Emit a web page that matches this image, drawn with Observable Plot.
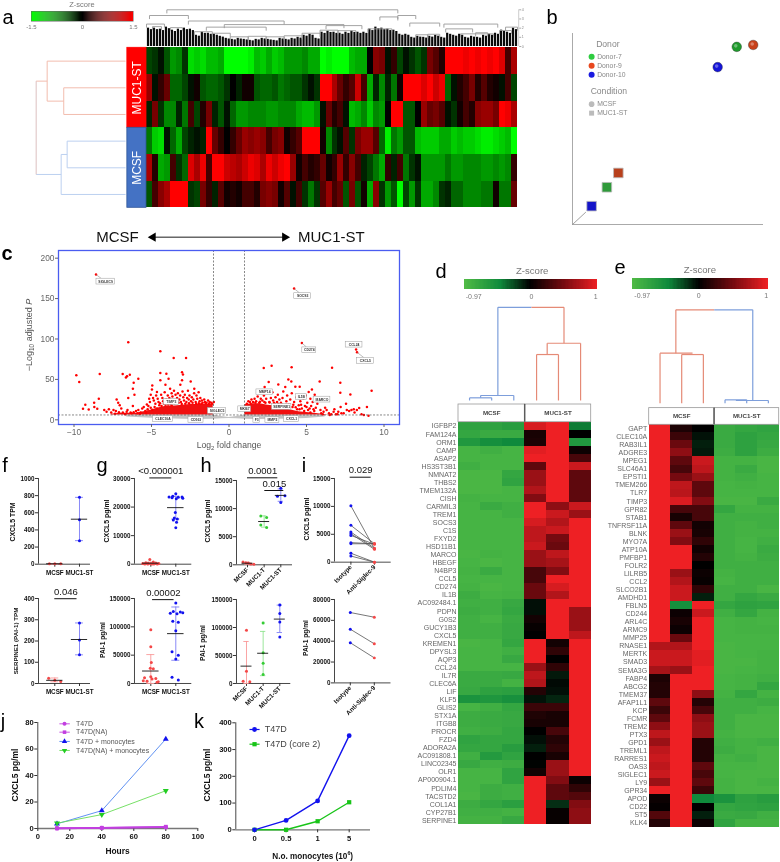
<!DOCTYPE html>
<html><head><meta charset="utf-8">
<script src="https://cdn.jsdelivr.net/npm/d3@7"></script>
<script src="https://cdn.jsdelivr.net/npm/@observablehq/plot@0.6"></script>
<style>
html,body{margin:0;padding:0;background:#fff}
#root{position:relative;width:780px;height:862px;overflow:hidden;background:#fff;font-family:"Liberation Sans",Arial,sans-serif;filter:blur(.3px)}
#root svg{overflow:visible;background:transparent}
.t{position:absolute;white-space:nowrap;line-height:1}
.t sub{font-size:.7em;line-height:0}
</style></head><body><div id="root"></div>
<script>
// ---------- panel a: heat map (rows: MUC1-ST x3, MCSF x3) ----------
const aRow1=[-.4,-.3,-.1,-.5,-.9,-.8,-.3,-1.3,-1.2,-1.3,-1.1,-1.1,-1,-1.5,-1.5,-1.5,-1.5,-1.4,-1.1,-1.2,-1,-1.2,-1.1,-.9,-.9,-.9,-.8,-1,-1,-1.5,-1.4,-1.5,-1.5,-1.5,-1.1,-1,-1,0,.8,.7,-.1,.3,-.4,-.1,-.3,-.5,-.3,.7,.5,.2,1.5,1.5,1.5,1.4,1.5,1.4,1.5,1.4,1.5,1.3,.4,1];
const aRow2=[.9,-.1,.3,.6,-.6,-.6,-.4,-.1,.1,-.5,-.6,-.6,-.5,-.3,0,-.2,.1,.1,-.5,-.6,-.6,-.5,-.7,-.6,-.5,-.5,-.3,-.1,-.3,1.5,1.5,1,.6,.3,.5,1.2,.4,-1,-.2,-.8,-.2,-.7,.1,1.5,1.5,1.5,1.3,1.5,1.2,1.4,-.6,-.1,.2,.4,.7,.2,.5,.2,.1,-.1,.4,-.4];
const aRow3=[-.2,.7,-.3,-.8,-.8,-.2,-.7,.4,-.4,.2,.7,-.2,-.5,-.1,-.6,-.9,-.9,-.8,-.8,-.8,-.9,-.9,-.8,-.8,-.8,-1,-1.1,-1.1,-.9,-.1,.6,.2,.4,-.1,-1.1,-1,-.8,-1.2,-.8,-.9,0,1.5,1.5,-.5,-.5,0,.9,.6,.7,.5,-.1,-.3,.1,.4,.2,.8,.9,.9,.7,1.5,1.4,1];
const aRow4=[-.7,-1.2,-1.3,-.1,-.6,-1,-.4,-.2,-.1,-.2,1.5,.6,.3,0,.3,.6,.9,.8,.9,.8,.4,.7,.8,.1,.3,.5,1.5,1.5,1.5,.1,-.8,-.3,-.1,.5,-.3,.7,.9,.9,.5,-.6,-1.4,-.7,-.9,-.5,-.5,-1.1,-1.2,-1.2,-1.2,-1,-1,-1.2,-1.1,-1.2,-1.2,-1.3,-1.4,-1.4,-1.3,-1.2,-1.1,-1.5];
const aRow5=[1,.2,-1,-.9,.4,-.3,-.6,1.3,1,1.4,.4,1.5,1.5,1.2,1.1,1,1.2,1.4,1.3,1,1.4,1.2,1.4,1.5,.9,.1,.4,.2,.3,.6,.1,.3,.9,.3,.8,.4,-.2,-.4,-.7,-1,.3,-.2,.4,-.7,-.3,-.1,-.9,-.9,-.9,-.9,-.7,-.9,-.9,-.8,-.8,-.8,-.9,-.9,-.8,-.9,-.8,.3];
const aRow6=[-.5,.4,.8,1,1.5,1.5,1.5,-.3,-.4,.7,.3,-.2,.5,.1,.2,.1,.4,.4,.2,.7,.8,.7,.1,.5,-.1,.4,-.3,-.7,-.3,.5,.9,.4,.6,-.5,.7,-.5,.1,-1,.8,-.3,-.9,-.5,-1.5,-.4,-.9,-.3,-1,-1,-.8,-.3,-.2,-.6,-.6,-.8,-.8,-.8,-.7,-.7,.1,-.7,-.7,.6];
const aRows=[aRow1,aRow2,aRow3,aRow4,aRow5,aRow6];
const aLeaf=[1.8,1.8,1.7,1.9,1.6,1.7,1.8,1.7,1.1,1.4,1.3,1.2,1,.8,.7,.8,.7,.6,.7,.8,.7,.6,.8,.7,.8,.9,1.1,1.2,.8,1.4,1.5,1.4,1.3,1.4,1.5,1.4,1.4,1.7,1.9,1.8,1.7,1.6,1.2,1.2,.9,1,.9,1,1.1,.9,1.3,1.1,1.2,.9,1,.9,1.1,1.2,1.3,1.6,1.4,1.8];
// top dendrogram merges: [from column, to column, height]
const aTopMerges=[[3.4,42,3.6],[.5,7,3.04],[7,23,2.5],[13,33,2.15],[0,3,2.2],[10,20,1.9],[30,36,2.05],[37,41,1.73],[39,42,2.9],[42,45,3.04],[44,49,2.3],[49.7,58.7,2.2],[50,54.5,1.73],[59,61,1.57],[52.5,58,1.24],[1,2.5,1.95],[4,6,1.85],[8,11,1.45],[11,14,1.3],[14,17,.95],[17,20,1],[20,23,.95],[23,26,1.05],[26,29,1.3],[29,32,1.6],[32,35,1.55],[45,47,1.15],[47,49,1.2],[55,57,1.35],[60,62,1.9]];
// left dendrogram branches: [x1,row1,x2,row2,colour class]
const aBranches=[[-16.6,.5,-3.5,.5,"r"],[-16.6,.5,-16.6,2,"r"],[-13.83,1.5,-3.5,1.5,"r"],[-13.83,2.5,-3.5,2.5,"r"],[-13.83,1.5,-13.83,2.5,"r"],[-16.6,2,-13.83,2,"r"],[-13.26,3.5,-3.5,3.5,"b"],[-13.26,4.5,-3.5,4.5,"b"],[-13.26,3.5,-13.26,4.5,"b"],[-14.26,4,-13.26,4,"b"],[-14.26,4,-14.26,5.5,"b"],[-14.26,5.5,-3.5,5.5,"b"],[-18.44,1.25,-16.6,1.25,"r"],[-18.44,4.75,-14.26,4.75,"b"],[-18.44,1.25,-18.44,4.75,"m"]];
const aGroups=["MUC1-ST","MCSF"];
const aTopTicks=[0,.9,1.8,2.7,3.6];
const aScaleTicks=[-1.5,0,1.5];

// ---------- panel b ----------
const bDonors=["Donor-7","Donor-9","Donor-10"];
const bColors=["#1f9a2c","#c8401a","#1414d8"];
const bSphereX=[86,94.6,76], bSphereY=[93,94,82.4];
const bCubeX=[18,24,10], bCubeY=[19.5,27,9.6];
const bCubeColors=["#2f9a3a","#b8401c","#1414c8"];

// ---------- panel c: volcano ----------
const cLeftPts=[[-8.58,179.8],[-6.5,96],[-4.43,84.7],[-3.57,76.4],[-2.77,76.4],[-9.85,55],[-9.66,46.7],[-8.34,56.6],[-6.86,56.6],[-6.65,52.5],[-6.58,54],[-6.4,55.8],[-5.85,50.8],[-6.15,46],[-6.2,38.4],[-6.1,31],[-6.5,26.9],[-4.95,42.6],[-4.97,37.6],[-4.43,57.9],[-4.04,57],[-4.43,48.8],[-3.9,50.8],[-3.03,59],[-2.97,56],[-3.03,48.8],[-3.14,43.4],[-2.47,47.5],[-4.1,43.4],[-4.65,34.3],[-3.8,38.4],[-2.24,38.4],[-1.96,34],[-9.42,13.6],[-9.27,18.6],[-9.05,12.8],[-8.7,21],[-8.4,26],[-8.69,15.7],[-8.5,13.6],[-8.05,12],[-7.9,10],[-7.75,13],[-7.6,9],[-7.45,12],[-7.3,11],[-7.25,25],[-7.15,21],[-7.05,18],[-6.95,14],[-6.85,9],[-6.7,7],[-6.55,12],[-6.35,9],[-6.3,8],[-6.2,17],[-6.0,11],[-5.9,8],[-5.7,9],[-5.6,14],[-5.5,16],[-5.4,11],[-5.3,19],[-5.2,17],[-5.15,26],[-5.1,22],[-5.05,31],[-4.9,27],[-4.85,24],[-4.75,20],[-4.7,30],[-4.6,26],[-4.55,22],[-4.5,18],[-4.38,31],[-4.3,27],[-4.25,23],[-4.2,20],[-4.15,34],[-4.05,25],[-3.95,30],[-3.9,22],[-3.85,27],[-3.75,20],[-3.7,33],[-3.65,29],[-3.6,24],[-3.55,36],[-3.45,31],[-3.4,22],[-3.35,27],[-3.3,33],[-3.2,25],[-3.15,30],[-3.1,22],[-3.0,35],[-2.95,28],[-2.9,24],[-2.85,31],[-2.75,22],[-2.7,27],[-2.65,36],[-2.6,25],[-2.55,30],[-2.45,23],[-2.4,28],[-2.3,25],[-2.25,33],[-2.15,22],[-2.1,30],[-2.05,26],[-1.9,23],[-1.85,27],[-1.75,24],[-1.7,21],[-1.6,25],[-1.55,22],[-1.45,21],[-1.35,24],[-1.25,22],[-1.15,21],[-1.08,20],[-.98,22],[-7.35,7.5],[-7.1,9.5],[-6.6,10],[-6.15,9.5],[-5.85,12],[-5.75,7.5],[-5.35,8.5],[-5.25,13],[-5.05,15],[-4.95,12.5],[-4.8,16],[-4.65,14],[-4.45,20.5],[-4.35,17],[-4.1,18.5],[-3.92,19],[-3.7,18],[-3.52,20.5],[-3.25,21],[-3.05,19.5],[-2.82,20],[-2.58,20.5],[-2.35,21],[-2.12,20],[-1.95,20.5],[-1.78,20],[-1.5,20.5],[-1.3,19.8]];
const cRightPts=[[4.2,162.4],[4.7,95],[8.2,87],[8.26,83.5],[2.24,64],[2.75,67],[4.04,65],[6.65,64.5],[5.85,47.5],[7.18,45.9],[7.18,33.5],[9.2,36],[7.83,31.4],[7.55,20],[2.56,46.7],[2.3,40.5],[3.83,50],[4.02,47.5],[3.63,40.5],[4.28,41],[4.56,41],[3.18,43.8],[5.35,37.6],[5.14,34.3],[5.53,31],[5.25,26],[8.9,15.7],[8.4,14.5],[8.25,12],[8.05,13],[7.9,12],[7.75,11],[7.6,12],[7.4,8],[7.2,16],[7.05,10],[6.9,7],[6.75,10],[6.6,7],[6.45,8],[6.3,12],[6.2,15],[6.1,10],[5.95,8],[5.8,24],[5.7,20],[5.6,15],[5.5,11],[5.4,22],[5.3,17],[5.2,14],[5.05,21],[4.95,30],[4.9,17],[4.8,26],[4.7,14],[4.6,23],[4.5,18],[4.4,13],[4.35,28],[4.2,22],[4.1,16],[4.05,33],[3.95,25],[3.85,19],[3.75,30],[3.7,23],[3.6,17],[3.5,35],[3.45,27],[3.35,21],[3.25,25],[3.15,31],[3.1,22],[3,28],[2.95,20],[2.85,24],[2.8,34],[2.7,27],[2.6,22],[2.5,36],[2.4,26],[2.35,21],[2.25,30],[2.15,24],[2.05,26],[1.95,21],[1.85,29],[1.75,23],[1.65,26],[1.55,22],[1.45,25],[1.35,22],[1.25,23],[1.15,20],[1.06,18],[9,5],[8.7,6],[8.55,7],[8.1,9],[7.25,8],[7,7],[6.8,13],[6.5,6],[5.9,12],[6.05,7],[5.45,13],[5.25,9],[5.1,12],[5,16],[4.85,11],[4.65,18.5],[4.55,13],[4.3,15.5],[4.15,18.5],[3.92,15.5],[3.68,18.5],[3.42,19],[3.18,19.5],[2.9,21],[2.62,21.5],[2.28,22],[2,22.5],[1.7,21],[1.4,20],[1.2,19]];
const cBlobLX=[-7.6,-7,-6.5,-6,-5.5,-5,-4.5,-4,-3.5,-3,-2.5,-2,-1.5,-1.02];
const cBlobLTop=[7,8,8,8,10,12,15,17,17,18,19,19,19,19];
const cBlobRX=[1.02,1.5,2,2.5,3,3.5,4,4.5,5,5.5,6,6.5];
const cBlobRTop=[17,20,20,18,17,14,12,10,9,8,7,6];
const cGreyX=[-6.6,-5,-4,-3,-2,-1,-.5,0,.5,1,2,3,4,5,6.2];
const cGreyTop=[5.5,6,6,6,6,6,4.2,2.8,4.2,6,6,6,6,6,5.5];
const cGreyBot=[3.4,2,1.2,.6,.4,.6,1.2,1.5,1.2,.6,.4,.6,1,1.6,3.4];
const cLabels=["SIGLEC9","SOCS3","CD274","CCL24","CXCL5","MMP14","TIMP3","IL1B","MARCO","SERPINE1","SIGLEC5","MKI67","CLEC10A","CD163","F3","MMP2","CXCL1"];
const cLabelX=[-7.96,4.75,5.18,8.07,8.8,2.31,-3.72,4.67,6,3.4,-.77,1.01,-4.26,-2.13,1.79,2.8,4.04];
const cLabelY=[171,153,86,93,73,34,22,28,25,16,11,13,1,0,0,-.5,.8];
const cLabelW=[1.18,1.08,.9,1.08,1.08,1.08,.97,.69,1.08,1.25,1.18,.82,1.29,.97,.43,.9,.97];
const cLeaders=[[-8.58,179.8,-8.25,175],[4.2,162.4,4.55,157],[4.7,95,5,90],[8.26,83.5,8.7,77]];
const cArrowEnds=[-4.9,3.6];

// ---------- panel d ----------
const dGenes=["IGFBP2","FAM124A","ORM1","CAMP","ASAP2","HS3ST3B1","NMNAT2","THBS2","TMEM132A","CISH","CARMIL3","TREM1","SOCS3","C1S","FXYD2","HSD11B1","MARCO","HBEGF","N4BP3","CCL5","CD274","IL1B","AC092484.1","PDPN","G0S2","GUCY1B3","CXCL5","KREMEN1","DPYSL3","AQP3","CCL24","IL7R","CLEC6A","LIF","KLF5","GLIS2","STX1A","ITGB8","PROCR","FZD4","ADORA2A","AC091808.1","LINC02345","OLR1","AP000904.1","PDLIM4","TACSTD2","COL1A1","CYP27B1","SERPINE1"];
const dValues=[[-.7,-.7,-.65,.9,1,-.4],[-.75,-.8,-.8,.1,1,0],[-.6,-.5,-.45,.12,1,-.6],[-.9,-.85,-.9,.95,1,.05],[-.9,-.9,-.9,1,1,.3],[-.85,-.9,-.9,.4,1,.85],[-.93,-.93,-.75,.65,1,.4],[-.93,-.93,-.72,.65,1,.4],[-.93,-.93,-.9,.75,1,.4],[-.88,-.9,-.9,.55,1,.4],[-.9,-.8,-.85,1,.6,.85],[-.9,-.9,-.85,1,.85,.65],[-.9,-.9,-.9,.9,.75,1],[-.9,-.9,-.9,.8,.85,1],[-.9,-.9,-.9,.8,.5,1],[-.9,-.9,-.9,.85,.45,1],[-.92,-.88,-.9,.65,.8,1],[-.9,-.93,-.9,.65,.7,1],[-.88,-.8,-.9,.3,.55,1],[-.9,-.9,-.9,.3,1,1],[-.88,-.93,-.9,.45,.9,1],[-.82,-.9,-.88,.45,.75,1],[-.85,-.85,-.78,-.05,1,1],[-.82,-.85,-.75,-.05,1,.65],[-.85,-.9,-.8,.08,1,.65],[-.85,-.85,-.78,.03,1,.65],[-.85,-.85,-.78,0,1,.8],[-.92,-.9,-.75,1,.08,1],[-.9,-.9,-.85,1,.2,1],[-.9,-.9,-.78,1,0,1],[-.9,-.9,-.9,.65,.2,1],[-.8,-.8,-.78,.8,-.08,1],[-.8,-.8,-.88,.75,-.03,1],[-.78,-.7,-.68,.15,-.05,1],[-.55,-.58,-.52,-.06,-.12,1],[-.9,-.85,-.75,.25,.25,1],[-.82,-.8,-.78,.13,.1,1],[-.82,-.8,-.78,.1,.1,1],[-.85,-.82,-.75,0,.3,1],[-.72,-.75,-.75,-.05,.15,1],[-.75,-.75,-.65,-.1,.2,1],[-.85,-.62,-.72,0,.1,1],[-.78,-.85,-.82,-.01,.65,1],[-.9,-.9,-.72,.08,.65,1],[-.9,-.9,-.72,1,.55,.05],[-.9,-.82,-.85,1,.4,.2],[-.92,-.82,-.85,1,.4,.35],[-.82,-.75,-.68,1,-.15,.55],[-.85,-.85,-.88,1,.03,.6],[-.88,-.88,-.78,1,.03,.6]];
// dendrogram branches: [x1,h1,x2,h2,colour class]
const dBranches=[[.5,-2.7,.5,-3.03,"b"],[1.5,-2.7,1.5,-3.03,"b"],[.5,-3.03,1.5,-3.03,"b"],[1,-3.03,1,-3.32,"b"],[2.5,-2.7,2.5,-3.32,"b"],[1,-3.32,2.5,-3.32,"b"],[1.78,-3.32,1.78,-14.28,"b"],[1.78,-14.28,3.3,-14.28,"b"],[3.3,-14.28,4.77,-14.28,"r"],[4.77,-14.28,4.77,-9.81,"r"],[4.01,-9.81,5.52,-9.81,"r"],[4.01,-9.81,4.01,-8.41,"r"],[3.53,-8.41,4.52,-8.41,"r"],[3.53,-8.41,3.53,-2.7,"r"],[4.52,-8.41,4.52,-2.7,"r"],[5.52,-9.81,5.52,-2.7,"r"]];

// ---------- panel e ----------
const eGenes=["GAPT","CLEC10A","RAB3IL1","ADGRE3","MPEG1","SLC46A1","EPSTI1","TMEM266","TLR7","TIMP3","GPR82","STAB1","TNFRSF11A","BLNK","MYO7A","ATP10A","PMFBP1","FOLR2","LILRB5","CCL2","SLCO2B1","AMDHD1","FBLN5","CD244","ARL4C","ARMC9","MMP25","RNASE1","MERTK","SMAD3","SEMA3G","FABP4","ABCG2","TMEM37","AFAP1L1","KCP","FCMR","TREM2","PTX3","GPD1","TREML1","RARRES1","OAS3","SIGLEC1","LY9","GPR34","APOD","CD22","ST5","KLK4"];
const eValues=[[1,.12,0,-.8,-.75,-.72],[1,.25,-.06,-.8,-.7,-.75],[1,.45,-.1,-.8,-.7,-.78],[1,.6,-.08,-.82,-.7,-.82],[1,.4,.85,-.88,-.88,-.92],[1,.3,.8,-.88,-.8,-.92],[1,.5,.65,-.88,-.85,-.9],[1,.8,.4,-.9,-.88,-.9],[1,.78,.4,-.9,-.9,-.9],[1,.92,.55,-.92,-.92,-.8],[1,.3,.3,-.75,-.88,-.88],[1,.1,.3,-.85,-.85,-.85],[1,.4,.08,-.85,-.88,-.85],[1,.65,.1,-.85,-.88,-.88],[1,.55,.2,-.85,-.9,-.85],[1,1,.07,-.85,-.9,-.8],[1,1,.15,-.85,-.88,-.82],[1,1,0,-.85,-.85,-.85],[1,.65,.05,-.88,-.85,-.85],[1,.75,.03,-.9,-.85,-.85],[1,.85,.2,-.85,-.85,-.92],[1,.85,-.1,-.85,-.75,-.8],[1,-.5,1,-.75,-.7,-.72],[1,.05,.85,-.85,-.75,-.88],[1,.1,1,-.9,-.88,-.9],[1,.05,1,-.9,-.88,-.88],[1,.45,1,-.9,-.9,-.9],[.75,.75,1,-.92,-.9,-.9],[.85,.85,.95,-.92,-.9,-.88],[.85,.85,.95,-.92,-.92,-.88],[.7,.65,1,-.92,-.9,-.88],[.12,1,1,-.9,-.88,-.85],[.15,1,1,-.9,-.88,-.75],[.15,1,.6,-.88,-.75,-.88],[.4,1,.15,-.85,-.85,-.82],[.25,1,.3,-.85,-.85,-.9],[.4,1,.6,-.85,-.92,-.92],[.6,1,.65,-.85,-.92,-.92],[.8,1,.65,-.88,-.92,-.92],[.65,1,.15,-.85,-.88,-.85],[.8,1,.15,-.82,-.88,-.92],[.85,1,.15,-.88,-.85,-.92],[.8,1,.4,-.9,-.9,-.92],[.85,1,.3,-.9,-.92,-.92],[.65,1,.4,-.88,-.92,-.88],[1,1,.25,-.88,-.92,-.92],[.05,1,-.45,-.55,-.7,-.65],[.02,1,0,-.75,-.72,-.7],[.35,1,-.1,-.8,-.78,-.85],[.15,1,.05,-.72,-.88,-.88]];
const eBranches=[[.5,-2.68,.5,-8.9,"r"],[1.5,-2.68,1.5,-8.73,"r"],[2.5,-2.68,2.5,-8.73,"r"],[1.5,-8.73,2.5,-8.73,"r"],[.5,-8.9,2,-8.9,"r"],[1.23,-8.9,1.23,-14.28,"r"],[1.23,-14.28,3,-14.28,"r"],[3,-14.28,4.78,-14.28,"b"],[4.78,-14.28,4.78,-3.02,"b"],[3.5,-3.1,4.5,-3.1,"b"],[4,-3.02,5.5,-3.02,"b"],[3.5,-3.1,3.5,-2.68,"b"],[4.5,-3.1,4.5,-2.68,"b"],[5.5,-3.02,5.5,-2.68,"b"]];
const headerNames=["MCSF","MUC1-ST"];

// ---------- panels f to i ----------
const red="#f44848", blue="#1212ee", green="#35cc35";
const f1={cats:["MCSF","MUC1-ST"],ymax:1000,ticks:[0,200,400,600,800,1000],groups:[
 {i:0,c:red,v:[6,6,6],o:[-.22,0,.24],m:5,lo:2,hi:8},
 {i:1,c:blue,v:[780,520,275],o:[0,0,0],m:525,lo:275,hi:780}]};
const f2={cats:["MCSF","MUC1-ST"],ymax:400,ticks:[0,100,200,300,400],groups:[
 {i:0,c:red,v:[25,15,10],o:[-.25,0,.24],m:15,lo:8,hi:26},
 {i:1,c:blue,v:[285,205,135],o:[0,0,0],m:207,lo:135,hi:285}],sig:[{a:0,b:.9,y:399,t:"0.046"}]};
const g1={cats:["MCSF","MUC1-ST"],ymax:30000,ticks:[0,10000,20000,30000],groups:[
 {i:0,c:red,v:[1600,800,500,400,300,250,200,150,100,80,60,40,30],o:[-.04,.1,-.2,.2,-.1,-.32,.32,0,-.24,.12,.26,-.12,.04],m:350,lo:0,hi:700},
 {i:1,c:blue,v:[24700,23800,23500,23500,23400,23300,23100,22900,18100,16200,15800,15500,14700,12800],o:[0,-.12,-.27,.25,.1,-.15,.28,.02,-.02,-.06,.06,-.1,.03,0],m:19800,lo:15800,hi:23800}],sig:[{a:-.04,b:.84,y:30200,t:"<0.000001"}]};
const g2={cats:["MCSF","MUC1-ST"],ymax:150000,ticks:[0,50000,100000,150000],groups:[
 {i:0,c:red,v:[95000,65000,37000,27000,26000,12000,10000,9000,8000,5000,4000,3000,2000],o:[0,0,.02,-.02,.1,0,-.25,.2,.05,-.3,-.15,.3,.25],m:22000,lo:0,hi:51000},
 {i:1,c:blue,v:[142000,127000,126000,125000,124000,123000,110000,108000,93000,56000,50000,43000,11000,6000],o:[0,-.1,.18,.28,-.22,.05,-.12,.1,0,-.15,.1,0,-.15,.1],m:88000,lo:41000,hi:135000}],sig:[{a:.07,b:.93,y:148000,t:"0.00002"}]};
const h1={cats:["MCSF","MUC1-T","MUC1-ST"],ymax:15000,ticks:[0,5000,10000,15000],rotate:true,groups:[
 {i:0,c:red,v:[500,350,300,150,80],o:[-.27,-.1,.05,.2,.38],m:280,lo:100,hi:450},
 {i:1,c:green,v:[8700,8400,7100,6650],o:[-.2,.15,-.2,.15],m:7700,lo:6700,hi:8700},
 {i:2,c:blue,v:[13600,12300,12200,11100],o:[0,.25,-.2,0],m:12350,lo:11300,hi:13500}],sig:[{a:0,b:1.82,y:15480,t:"0.0001"},{a:1.04,b:2.18,y:13220,t:"0.015"}]};
const h2={cats:["MCSF","MUC1-T","MUC1-ST"],ymax:150000,ticks:[0,50000,100000,150000],rotate:true,groups:[
 {i:0,c:red,v:[95000,22000,4000,3000],o:[0,0,-.2,.2],m:31000,lo:0,hi:75000},
 {i:1,c:green,v:[108000,55000,36000,16000],o:[0,0,0,0],m:54000,lo:14000,hi:93000},
 {i:2,c:blue,v:[140000,125000,110000,83000],o:[0,0,0,0],m:115000,lo:91000,hi:140000}]};
const i1={cats:["Isotype","Anti-Siglec-9"],ymax:15000,ticks:[0,5000,10000,15000],rotate:true,thick:true,
 before:[10100,6600,5400,5100,4800,3500,3300,1600,1100],after:[2400,3300,2500,2300,3200,3300,3300,0,0],sig:[{a:-.03,b:.86,y:15230,t:"0.029"}]};
const i2={cats:["Isotype","Anti-Siglec-9"],ymax:80000,ticks:[0,20000,40000,60000,80000],rotate:true,
 before:[67500,51500,38500],after:[63000,37500,24000]};

// ---------- panel j ----------
const jHours=[12,40,80];
const jT47D=[.2,.5,1], jNA=[.1,.5,1.3], jMono=[3.5,13.5,67.5], jNAMono=[4,10.5,28.5];
const jNames=["T47D","T47D(NA)","T47D + monocytes","T47D(NA) + monocytes"];
const jColors=["#c23fe0","#c23fe0","#4f86f0","#66dd55"];
const jSymbols=["circle","square","triangle","triangle"];
const jRot=[0,0,0,180];
const jFills=["#c23fe0","#c23fe0","#1212ee","#22cc22"];
// ---------- panel k ----------
const kDoses=["0","0.5","1","5"];
const kT47D=[0,35,108,352], kCore=[0,0,32,103];
const kNames=["T47D","T47D (core 2)"];

// ---------- helpers ----------
const root=document.getElementById("root");
const FONT='"Liberation Sans",Arial,sans-serif';
const plain=d=>String(d);
function put(el,left,top){el.style.position="absolute";el.style.left=left+"px";el.style.top=top+"px";root.append(el);return el;}
function txt(html,x,y,o={}){const d=document.createElement("div");d.className="t";d.innerHTML=html;
 d.style.left=x+"px";d.style.top=y+"px";d.style.fontSize=(o.size||8)+"px";d.style.fontWeight=o.weight||"normal";d.style.color=o.color||"#111";
 d.style.transform=`translate(-50%,-50%) rotate(${o.rot||0}deg)`;root.append(d);return d;}
const base={style:{fontFamily:FONT,background:"transparent",overflow:"visible"}};
function lines(rows,colors,w){return Plot.link(rows,{x1:d=>d[0],y1:d=>d[1],x2:d=>d[2],y2:d=>d[3],stroke:{value:d=>colors[d[4]],scale:null},strokeWidth:w});}

// panel letters
[["a",8,17],["b",552,17],["c",7,253],["d",441,271],["e",620,267],["f",5,465],["g",102,465],["h",206,465],["i",304,465],["j",3,721],["k",199,721]]
 .forEach(([l,x,y])=>txt(l,x,y,{size:20,color:"#000",weight:l==="c"?"bold":"normal"}));

// ---------- a ----------
const aColor={type:"linear",domain:[-1.5,0,1.5],range:["#00ff00","#000000","#ff0000"]};
const aCells=aRows.flatMap((row,r)=>row.map((z,c)=>({c,r,z})));
put(Plot.plot({...base,width:525,height:172,marginLeft:146,marginRight:8,marginTop:7.3,marginBottom:4.7,
 x:{domain:[0,62],axis:null},y:{domain:[0,6],axis:null,reverse:true},color:aColor,
 marks:[
  Plot.rect(aCells,{x1:"c",x2:d=>d.c+1,y1:"r",y2:d=>d.r+1,fill:"z",shapeRendering:"crispEdges"}),
  Plot.rect(aGroups,{x1:-3.2,x2:0,y1:(d,i)=>i*3,y2:(d,i)=>i*3+3,fill:{value:(d,i)=>["#ff0000","#4472c4"][i],scale:null},stroke:{value:(d,i)=>["#ff0000","#2f5597"][i],scale:null},strokeWidth:.8}),
  Plot.text(aGroups,{x:-1.6,y:(d,i)=>i*3+1.5,text:d=>d,rotate:-90,fill:"#fff",fontSize:12}),
  lines(aBranches,{r:"#f2bdae",b:"#bcd0f0",m:"#dcc0c0"},1)
 ]}),0,40);
const aBars=aLeaf.flatMap((h,i)=>[{x:i+.25,h},{x:i+.75,h:h*.92}]);
const aMergeSeg=aTopMerges.flatMap(([a,b,h])=>[[a,h,b,h],[a,h,a,h-.35],[b,h,b,h-.35]]);
put(Plot.plot({...base,width:395,height:48,marginLeft:0,marginRight:24,marginTop:9.3,marginBottom:2,
 x:{domain:[0,62],axis:null},y:{domain:[0,3.6],axis:null},
 marks:[
  Plot.ruleX(aBars,{x:"x",y1:0,y2:"h",stroke:"#0a0a0a",strokeWidth:2.2}),
  Plot.link(aMergeSeg,{x1:d=>d[0],y1:d=>d[1],x2:d=>d[2],y2:d=>d[3],stroke:"#9a9a9a",strokeWidth:.9}),
  Plot.ruleX([62.2],{y1:0,y2:3.6,stroke:"#aaa",strokeWidth:.6}),
  Plot.axisY(aTopTicks,{anchor:"right",x:62.2,tickSize:2,tickPadding:1,fontSize:3.6,color:"#888",label:null,stroke:"#aaa"})
 ]}),146,0);
put(Plot.plot({...base,width:120,height:30,marginLeft:16,marginRight:2,marginTop:11,marginBottom:9,
 x:{domain:[-1.5,1.5],axis:null},y:{domain:[0,1],axis:null},color:aColor,
 marks:[
  Plot.rect(d3.range(-1.5,1.5,.03),{x1:d=>d,x2:d=>d+.031,y1:0,y2:1,fill:d=>d}),
  Plot.frame({stroke:"#666",strokeWidth:.5}),
  Plot.axisX(aScaleTicks,{tickSize:0,tickPadding:3,fontSize:6,color:"#777",label:null,tickFormat:plain})
 ]}),15,0);
txt("Z-score",82,4.5,{size:7.5,color:"#777"});

// ---------- b ----------
const bConds=["MCSF","MUC1-ST"];
const bLegX=10;
put(Plot.plot({...base,width:220,height:205,marginLeft:22,marginRight:7,marginTop:8,marginBottom:6,
 x:{domain:[0,100],axis:null},y:{domain:[0,100],axis:null},
 marks:[
  Plot.ruleX([0],{y1:0,y2:100,stroke:"#aaa",strokeWidth:1}),
  Plot.ruleY([0],{x1:0,x2:100,stroke:"#aaa",strokeWidth:1}),
  Plot.link([0],{x1:0,y1:0,x2:7,y2:6.5,stroke:"#888",strokeWidth:.8}),
  Plot.dot(bColors,{x:bSphereX,y:bSphereY,r:4.8,fill:d=>d,stroke:"#333",strokeWidth:.4,symbol:"circle"}),
  Plot.dot(bColors,{x:bSphereX,y:bSphereY,r:1.8,fill:"#fff",fillOpacity:.35,dx:-1,dy:-1}),
  Plot.dot(bCubeColors,{x:bCubeX,y:bCubeY,r:5.4,fill:d=>d,stroke:"#bbb",strokeWidth:.8,symbol:"square"}),
  Plot.text(["Donor"],{x:18.5,y:94.6,text:d=>d,fontSize:8.6,fill:"#888"}),
  Plot.dot(bDonors,{x:bLegX,y:[87.8,83.1,78.4],r:3,fill:{value:(d,i)=>["#2ecc40","#e8481f","#1a1ae0"][i],scale:null}}),
  Plot.text(bDonors,{x:12.9,y:[88,83.3,78.6],text:d=>d,textAnchor:"start",fontSize:6.8,fill:"#888"}),
  Plot.text(["Condition"],{x:19,y:69.8,text:d=>d,fontSize:8.6,fill:"#888"}),
  Plot.dot([bConds[0]],{x:bLegX,y:63,r:2.8,fill:"#bbb",symbol:"circle"}),
  Plot.dot([bConds[1]],{x:bLegX,y:58.3,r:2.8,fill:"#bbb",symbol:"square"}),
  Plot.text(bConds,{x:12.9,y:[63.4,58.7],text:d=>d,textAnchor:"start",fontSize:6.8,fill:"#888"})
 ]}),550,25);

// ---------- c ----------
put(Plot.plot({...base,width:410,height:225,marginLeft:58,marginRight:11,marginTop:25,marginBottom:26,
 x:{domain:[-11,11],axis:null},y:{domain:[-5.8,209.5],axis:null},
 marks:[
  Plot.areaY(cGreyX,{x:d=>d,y1:(d,i)=>cGreyBot[i],y2:(d,i)=>cGreyTop[i],fill:"#c4c4c4"}),
  Plot.areaY(cBlobLX,{x:d=>d,y1:6,y2:(d,i)=>cBlobLTop[i],fill:"#f01010"}),
  Plot.areaY(cBlobRX,{x:d=>d,y1:6,y2:(d,i)=>cBlobRTop[i],fill:"#f01010"}),
  Plot.dot(cLeftPts.concat(cRightPts),{x:d=>d[0],y:d=>d[1],r:1.25,fill:"#f00"}),
  Plot.ruleX([-1,1],{stroke:"#555",strokeWidth:.7,strokeDasharray:"2,1.5"}),
  Plot.ruleY([6],{stroke:"#555",strokeWidth:.7,strokeDasharray:"2,1.5"}),
  Plot.link(cLeaders,{x1:d=>d[0],y1:d=>d[1],x2:d=>d[2],y2:d=>d[3],stroke:"#777",strokeWidth:.5}),
  Plot.rect(cLabels,{x1:(d,i)=>cLabelX[i]-cLabelW[i]/2,x2:(d,i)=>cLabelX[i]+cLabelW[i]/2,y1:(d,i)=>cLabelY[i]-3.6,y2:(d,i)=>cLabelY[i]+3.6,fill:"#fff",stroke:"#999",strokeWidth:.5}),
  Plot.text(cLabels,{x:(d,i)=>cLabelX[i],y:(d,i)=>cLabelY[i],text:d=>d,fontSize:3.4,fontWeight:"bold",fill:"#333"}),
  Plot.frame({stroke:"#4a5cf0",strokeWidth:1.3}),
  Plot.axisX([-10,-5,0,5,10],{tickSize:3,tickPadding:2,fontSize:8.4,color:"#666",label:null,stroke:"#666"}),
  Plot.axisY([0,50,100,150,200],{tickSize:3,tickPadding:1,fontSize:8.4,color:"#666",label:null,stroke:"#666"}),
  Plot.link([0],{x1:-4.9,x2:3.6,y1:226,y2:226,stroke:"#000",strokeWidth:.9}),
  Plot.dot(cArrowEnds,{x:d=>d,y:226,r:3.4,symbol:"triangle",fill:"#000",rotate:(d,i)=>i?90:-90}),
  Plot.text(["MCSF","MUC1-ST"],{x:[-7.2,6.6],y:226,text:d=>d,fontSize:15,fill:"#111"})
 ]}),0,225);
txt("−Log<sub>10</sub> adjusted <i>P</i>",29,335,{size:9,rot:-90,color:"#555"});
txt("Log<sub>2</sub> fold change",229,445,{size:8.6,color:"#555"});

// ---------- d, e ----------
const zColor={type:"linear",domain:[-.97,-.45,0,.5,1],range:["#4fba45","#0f8a3c","#000000","#760a10","#ee2024"]};
function heat({genes,values,branches,left,top,width,mL,mR,rowTop,rowBot,hdr,leg,legTicks,legName}){
 const cells=values.flatMap((row,r)=>row.map((z,c)=>({r,c,z})));
 const rowH=(rowBot-rowTop)/genes.length, yTop=(top-rowTop)/rowH;
 const toX=d3.scaleLinear().domain([-.97,1]).range(leg.x);
 const lz=d3.range(-.97,1,.02);
 return put(Plot.plot({...base,width,height:rowBot-top+2,marginLeft:mL,marginRight:mR,marginTop:0,marginBottom:2,
  x:{domain:[0,6],axis:null},y:{domain:[yTop,50],axis:null,reverse:true},color:zColor,
  marks:[
   Plot.rect(cells,{x1:"c",x2:d=>d.c+1,y1:"r",y2:d=>d.r+1,fill:"z",shapeRendering:"crispEdges"}),
   Plot.text(genes,{x:0,y:(d,i)=>i+.5,text:d=>d,textAnchor:"end",dx:-2,fontSize:7,fill:"#666"}),
   Plot.rect(headerNames,{x1:(d,i)=>i*3,x2:(d,i)=>i*3+3,y1:hdr,y2:0,fill:"#fff",stroke:"#999",strokeWidth:.8}),
   Plot.ruleX([3],{y1:hdr,y2:0,stroke:"#333",strokeWidth:1}),
   Plot.text(headerNames,{x:(d,i)=>i*3+1.5,y:hdr/2,text:d=>d,fontSize:6.2,fontWeight:"bold",fill:"#444"}),
   lines(branches,{r:"#e58a76",b:"#7d9edb"},1.2),
   Plot.rect(lz,{x1:d=>toX(d),x2:d=>toX(d+.022),y1:leg.y1,y2:leg.y2,fill:d=>d,shapeRendering:"crispEdges"}),
   Plot.text(legTicks.labels,{x:legTicks.x,y:legTicks.y,text:d=>d,fontSize:7,fill:"#777"}),
   Plot.text([legName],{x:legTicks.tx,y:legTicks.ty,text:d=>d,fontSize:9.6,fill:"#777"})
  ]}),left,top);
}
heat({genes:dGenes,values:dValues,branches:dBranches,left:410,top:262,width:190,mL:48,mR:9.3,rowTop:421.7,rowBot:824,hdr:-2.2,
 leg:{x:[.285,6.27],y1:-17.7,y2:-16.45},legTicks:{labels:["-0.97","0","1"],x:[.69,3.3,6.2],y:-15.6,tx:3.33,ty:-18.85},legName:"Z-score"});
heat({genes:eGenes,values:eValues,branches:eBranches,left:600,top:262,width:180,mL:48.7,mR:1.3,rowTop:424.3,rowBot:826.7,hdr:-2.07,
 leg:{x:[-.78,5.45],y1:-18.2,y2:-16.85},legTicks:{labels:["-0.97","0","1"],x:[-.32,2.28,5.4],y:-16.02,tx:2.34,ty:-19.3},legName:"Z-score"});

// ---------- f to i ----------
function dotPanel(p,{rule,end,cat0,step,top,zero}){
 const x0=(rule-cat0)/step, x1=(end-cat0)/step, pad=36, mt=16;
 const bottom=42;
 const marks=[
  Plot.ruleX([x0],{y1:0,y2:p.ymax,stroke:"#333",strokeWidth:.9}),
  Plot.ruleY([0],{x1:x0,x2:x1,stroke:p.thick?"#888":"#333",strokeWidth:p.thick?1.6:.9}),
  Plot.axisY(p.ticks,{x:x0,tickSize:3,tickPadding:1,fontSize:6.3,fontWeight:"bold",color:"#111",label:null,stroke:"#333",tickFormat:plain}),
  p.rotate
   ?Plot.axisX(p.cats.map((d,i)=>i),{y:0,tickSize:3,tickPadding:1,tickRotate:-45,fontSize:6.3,fontWeight:"bold",color:"#111",label:null,stroke:"#333",tickFormat:i=>p.cats[i]})
   :Plot.axisX(p.cats.map((d,i)=>i),{y:0,tickSize:3,tickPadding:3,fontSize:6.3,fontWeight:"bold",color:"#111",label:null,stroke:"#333",tickFormat:i=>p.cats[i]})
 ];
 (p.groups||[]).forEach(g=>{
  const light=d3.interpolateRgb(g.c,"#fff")(.45);
  marks.push(
   Plot.ruleX([g.i],{y1:g.lo,y2:g.hi,stroke:light,strokeWidth:.9}),
   Plot.ruleY([g.lo,g.hi],{x1:g.i-.16,x2:g.i+.16,stroke:light,strokeWidth:.9}),
   Plot.dot(g.v,{x:(d,k)=>g.i+g.o[k],y:d=>d,r:1.5,fill:g.c}),
   Plot.ruleY([g.m],{x1:g.i-.33,x2:g.i+.33,stroke:"#111",strokeWidth:.9}));
 });
 if(p.before){
  marks.push(
   Plot.link(p.before,{x1:0,x2:1,y1:d=>d,y2:(d,i)=>p.after[i],stroke:"#555",strokeWidth:.8}),
   Plot.dot(p.before,{x:0,y:d=>d,r:1.5,fill:blue}),
   Plot.dot(p.after,{x:1,y:d=>d,r:1.5,fill:red}));
 }
 (p.sig||[]).forEach(s=>marks.push(
   Plot.ruleY([s.y],{x1:s.a,x2:s.b,stroke:"#111",strokeWidth:1}),
   Plot.text([s.t],{x:(s.a+s.b)/2,y:s.y,text:d=>d,dy:-7,fontSize:9.5,fill:"#111"})));
 put(Plot.plot({...base,width:pad+(end-rule)+4,height:mt+(zero-top)+bottom,marginLeft:pad,marginRight:4,marginTop:mt,marginBottom:bottom,
  x:{domain:[x0,x1],axis:null},y:{domain:[0,p.ymax],axis:null},marks}),rule-pad,top-mt);
}
dotPanel(f1,{rule:38,end:90,cat0:54.3,step:24.7,top:478.3,zero:564});
dotPanel(f2,{rule:38,end:90,cat0:54.3,step:24.7,top:598.3,zero:683.3});
dotPanel(g1,{rule:133.7,end:191,cat0:150,step:25,top:478.3,zero:564});
dotPanel(g2,{rule:133.7,end:191,cat0:150,step:25,top:598.3,zero:683.3});
dotPanel(h1,{rule:235.7,end:291.7,cat0:246.7,step:16.65,top:479.7,zero:564});
dotPanel(h2,{rule:235.7,end:290,cat0:245.7,step:16.65,top:599.3,zero:683.3});
dotPanel(i1,{rule:334.3,end:391,cat0:350.7,step:23.6,top:478.3,zero:562});
dotPanel(i2,{rule:333.5,end:390,cat0:349.3,step:24,top:599.3,zero:682.7});
const yT={size:6.9,weight:"bold",rot:-90};
txt("CXCL5 TPM",13.3,521.7,yT);
txt("SERPINE1 (PAI-1) TPM",15.7,641,{...yT,size:6.2});
txt("CXCL5 pg/ml",106.7,520.7,yT);
txt("PAI-1 pg/ml",102.7,640,{...yT,size:6.6});
txt("CXCL5 pg/ml",207.7,521,yT);
txt("PAI-1 pg/ml",202.7,643,{...yT,size:6.6});
txt("CXCL5 pg/ml",307.3,519,yT);
txt("PAI-1 pg/ml",306,638,{...yT,size:6.6});

// ---------- j ----------
const jSeries=[jT47D,jNA,jMono,jNAMono];
const jLong=jSeries.flatMap((s,k)=>s.map((v,i)=>({k,h:jHours[i],v})));
const jLegY=[79,72.7,65.7,58.9];
put(Plot.plot({...base,width:205,height:147,marginLeft:37.3,marginRight:7.7,marginTop:7,marginBottom:34,
 x:{domain:[0,100],axis:null},y:{domain:[0,80],axis:null},
 marks:[
  Plot.ruleX([0],{y1:0,y2:80,stroke:"#333",strokeWidth:.9}),
  Plot.ruleY([0],{stroke:"#777",strokeWidth:1.4}),
  Plot.axisY([0,20,40,60,80],{x:0,tickSize:3,tickPadding:1,fontSize:7.6,fontWeight:"bold",color:"#111",label:null,stroke:"#333"}),
  Plot.axisX([0,20,40,60,80,100],{y:0,tickSize:3,tickPadding:2,fontSize:7.6,fontWeight:"bold",color:"#111",label:null,stroke:"#333"}),
  ...[2,3,0,1].map(k=>Plot.line(jLong.filter(d=>d.k===k),{x:"h",y:"v",stroke:jColors[k],strokeWidth:k<2?1.8:.9})),
  ...[0,1,2,3].map(k=>Plot.dot(jLong.filter(d=>d.k===k),{x:"h",y:"v",r:2.2,fill:jFills[k],symbol:jSymbols[k],rotate:jRot[k]})),
  Plot.link(jNames,{x1:13.5,x2:20,y1:(d,i)=>jLegY[i],y2:(d,i)=>jLegY[i],stroke:{value:(d,i)=>jColors[i],scale:null},strokeWidth:.9}),
  ...[0,1,2,3].map(k=>Plot.dot([jNames[k]],{x:16.7,y:jLegY[k],r:2,fill:jFills[k],symbol:jSymbols[k],rotate:jRot[k]})),
  Plot.text(jNames,{x:23.8,y:jLegY,text:d=>d,textAnchor:"start",fontSize:7,fill:"#555"})
 ]}),0,715);
txt("CXCL5 pg/ml",14.7,775,{size:8.5,weight:"bold",rot:-90});
txt("Hours",117.5,851,{size:8.4,weight:"bold"});

// ---------- k ----------
const kLong=[kT47D,kCore].flatMap((s,k)=>s.map((v,i)=>({k,i,v})));
const kCols=["#1212ee","#18c418"], kSyms=["circle","square"];
const kLegY=[375,320];
put(Plot.plot({...base,width:170,height:147,marginLeft:35.3,marginRight:0,marginTop:7.3,marginBottom:32.7,
 x:{domain:[-.594,3.676],axis:null},y:{domain:[0,400],axis:null},
 marks:[
  Plot.ruleX([-.594],{y1:0,y2:400,stroke:"#333",strokeWidth:.9}),
  Plot.ruleY([0],{stroke:"#777",strokeWidth:1.2}),
  Plot.axisY([0,100,200,300,400],{x:-.594,tickSize:3,tickPadding:1,fontSize:7.6,fontWeight:"bold",color:"#111",label:null,stroke:"#333"}),
  Plot.axisX([0,1,2,3],{y:0,tickSize:3,tickPadding:3,fontSize:7.6,fontWeight:"bold",color:"#111",label:null,stroke:"#333",tickFormat:i=>kDoses[i]}),
  ...[1,0].map(k=>Plot.line(kLong.filter(d=>d.k===k),{x:"i",y:"v",stroke:kCols[k],strokeWidth:1.4})),
  ...[1,0].map(k=>Plot.dot(kLong.filter(d=>d.k===k),{x:"i",y:"v",r:2.4,fill:kCols[k],symbol:kSyms[k]})),
  Plot.link(kNames,{x1:-.16,x2:.16,y1:(d,i)=>kLegY[i],y2:(d,i)=>kLegY[i],stroke:{value:(d,i)=>kCols[i],scale:null},strokeWidth:1.2}),
  ...[0,1].map(k=>Plot.dot([kNames[k]],{x:0,y:kLegY[k],r:2.4,fill:kCols[k],symbol:kSyms[k]})),
  Plot.text(kNames,{x:.325,y:kLegY,text:d=>d,textAnchor:"start",fontSize:9,fill:"#444"})
 ]}),200,715);
txt("CXCL5 pg/ml",207,775,{size:8.5,weight:"bold",rot:-90});
txt("N.o. monocytes (10<sup style='font-size:.65em;line-height:0'>6</sup>)",312.7,857,{size:8.2,weight:"bold"});
</script></body></html>
